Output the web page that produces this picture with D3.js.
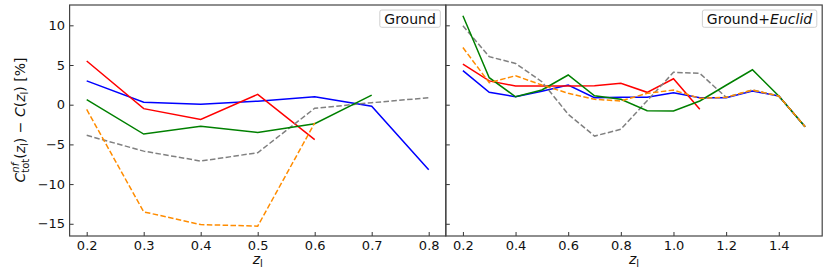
<!DOCTYPE html>
<html>
<head>
<meta charset="utf-8">
<script src="https://cdn.jsdelivr.net/npm/d3@7"></script>
<style>
  body { margin: 0; background: #fff; }
  text { font-family: "DejaVu Sans", sans-serif; }
</style>
</head>
<body>
<div id="chart"></div>
<script>
// data (percent)
var zGround = [0.2, 0.3, 0.4, 0.5, 0.6, 0.7, 0.8];
var zEuclid = [0.2, 0.3, 0.4, 0.5, 0.6, 0.7, 0.8, 0.9, 1.0, 1.1, 1.2, 1.3, 1.4, 1.5];

var groundRed    = [5.5, -0.5, -1.85, 1.3, -4.4];
var groundBlue   = [3.0, 0.3, 0.05, 0.45, 1.0, -0.2, -8.2];
var groundGreen  = [0.63, -3.7, -2.7, -3.5, -2.4, 1.2];
var groundGray   = [-3.86, -5.85, -7.1, -6.05, -0.45, 0.25, 0.88];
var groundOrange = [-0.6, -13.5, -15.1, -15.3, -2.3];

var euclidRed    = [5.1, 3.0, 2.35, 2.35, 2.35, 2.4, 2.7, 1.56, 3.27, -0.58];
var euclidBlue   = [4.3, 1.56, 1.0, 1.7, 2.48, 0.88, 0.93, 0.93, 1.5, 0.88, 0.88, 1.73, 1.1, -2.77];
var euclidGreen  = [11.2, 3.4, 1.0, 1.85, 3.74, 1.13, 0.68, -0.75, -0.8, 0.47, 2.45, 4.4, 1.1, -2.77];
var euclidGray   = [9.95, 6.05, 5.2, 2.9, -1.2, -3.95, -3.1, 0.5, 4.08, 3.95, 0.93, 1.85, 1.1, -2.77];
var euclidOrange = [7.2, 2.77, 3.65, 2.48, 1.44, 0.68, 0.47, 1.43, 1.85, 0.8, 0.93, 1.85, 1.1, -2.77];

var yTicks = [-15, -10, -5, 0, 5, 10];
var xTicksGround = [0.2, 0.3, 0.4, 0.5, 0.6, 0.7, 0.8];
var xTicksEuclid = [0.2, 0.4, 0.6, 0.8, 1.0, 1.2, 1.4];

// 0.size
var W = 830, H = 272;
var plotTop = 5, plotBottom = 236;
var svg = d3.select("#chart").append("svg").attr("width", W).attr("height", H);

var y = d3.scaleLinear().domain([-16.54, 12.56]).range([plotBottom, plotTop]);

var panels = [
    {x0: 69.6, x1: 445.8, dom: [0.17, 0.83], z: zGround, ticks: xTicksGround, labels: true,
     legend: "Ground", fmt: d3.format(".1f"),
     series: [
        {v: groundBlue, c: "blue"},
        {v: groundRed, c: "red"},
        {v: groundGray, c: "gray", dash: true},
        {v: groundGreen, c: "green"},
        {v: groundOrange, c: "darkorange", dash: true}
     ]},
    {x0: 445.8, x1: 822.2, dom: [0.135, 1.565], z: zEuclid, ticks: xTicksEuclid, labels: false,
     legend: "Ground+", legendIt: "Euclid", fmt: d3.format(".1f"),
     series: [
        {v: euclidBlue, c: "blue"},
        {v: euclidRed, c: "red"},
        {v: euclidGray, c: "gray", dash: true},
        {v: euclidGreen, c: "green"},
        {v: euclidOrange, c: "darkorange", dash: true}
     ]}
];

panels.forEach(function (p, pi) {
    var x = d3.scaleLinear().domain(p.dom).range([p.x0, p.x1]);
    var g = svg.append("g");

    var clipId = "clip" + pi;
    svg.append("clipPath").attr("id", clipId).append("rect")
        .attr("x", p.x0).attr("y", plotTop).attr("width", p.x1 - p.x0).attr("height", plotBottom - plotTop);

    var line = d3.line().x(function (d) { return x(d[0]); }).y(function (d) { return y(d[1]); });
    var lines = g.append("g").attr("clip-path", "url(#" + clipId + ")");
    p.series.forEach(function (s) {
        var pts = s.v.map(function (v, i) { return [p.z[i], v]; });
        lines.append("path")
            .attr("d", line(pts))
            .attr("fill", "none")
            .attr("stroke", s.c)
            .attr("stroke-width", 1.5)
            .attr("stroke-dasharray", s.dash ? "5.5,2.4" : null);
    });

    // axes
    var xAxis = d3.axisBottom(x).tickValues(p.ticks).tickFormat(p.fmt)
        .tickSizeInner(-4).tickSizeOuter(0).tickPadding(5);
    var gx = g.append("g").attr("transform", "translate(0," + plotBottom + ")").call(xAxis);
    var yAxis = d3.axisLeft(y).tickValues(yTicks)
        .tickFormat(p.labels ? function (d) { return d < 0 ? "\u2212" + Math.abs(d) : d; } : "")
        .tickSizeInner(-4).tickSizeOuter(0).tickPadding(4.5);
    var gy = g.append("g").attr("transform", "translate(" + p.x0 + ",0)").call(yAxis);
    [gx, gy].forEach(function (a) {
        a.select(".domain").remove();
        a.selectAll("line").attr("stroke", "#333");
        a.selectAll("text").attr("font-size", 13).attr("fill", "#111")
            .attr("font-family", "DejaVu Sans");
    });

    g.append("rect")
        .attr("x", p.x0).attr("y", plotTop).attr("width", p.x1 - p.x0).attr("height", plotBottom - plotTop)
        .attr("fill", "none").attr("stroke", "#444").attr("stroke-width", 1.2);

    // x label
    var xl = g.append("text").attr("x", (p.x0 + p.x1) / 2).attr("y", 264)
        .attr("text-anchor", "middle").attr("font-size", 14).attr("fill", "#111");
    xl.append("tspan").attr("font-style", "italic").text("z");
    xl.append("tspan").attr("font-size", 10).attr("dy", 3).text("l");

    // legend
    var lg = g.append("g");
    var lt = lg.append("text").attr("x", p.x1 - 10).attr("y", 23.5)
        .attr("text-anchor", "end").attr("font-size", 14).attr("fill", "#111");
    lt.append("tspan").text(p.legend);
    if (p.legendIt) lt.append("tspan").attr("font-style", "italic").text(p.legendIt);
    var bb = lt.node().getBBox();
    lg.insert("rect", "text")
        .attr("x", bb.x - 4.5).attr("y", 10).attr("width", bb.width + 9).attr("height", 17.3)
        .attr("rx", 2).attr("fill", "#fff").attr("stroke", "#d0d0d0").attr("stroke-width", 1);
});

// y label
var yl = svg.append("text")
    .attr("transform", "translate(25,120) rotate(-90)")
    .attr("text-anchor", "middle").attr("font-size", 14).attr("fill", "#111");
yl.append("tspan").attr("font-style", "italic").text("C");
var nf = yl.append("tspan").attr("font-size", 10).attr("font-style", "italic").attr("dy", -6).text("nf");
var tot = yl.append("tspan").attr("font-size", 10).attr("dy", 9.5).text("tot");
tot.attr("dx", -nf.node().getComputedTextLength());
yl.append("tspan").attr("dy", -3.5).text("(");
yl.append("tspan").attr("font-style", "italic").text("z");
yl.append("tspan").attr("font-size", 10).attr("dy", 3).text("l");
yl.append("tspan").attr("dy", -3).text(") \u2212 ");
yl.append("tspan").attr("font-style", "italic").text("C");
yl.append("tspan").text("(");
yl.append("tspan").attr("font-style", "italic").text("z");
yl.append("tspan").attr("font-size", 10).attr("dy", 3).text("l");
yl.append("tspan").attr("dy", -3).text(") [%]");
</script>
</body>
</html>
